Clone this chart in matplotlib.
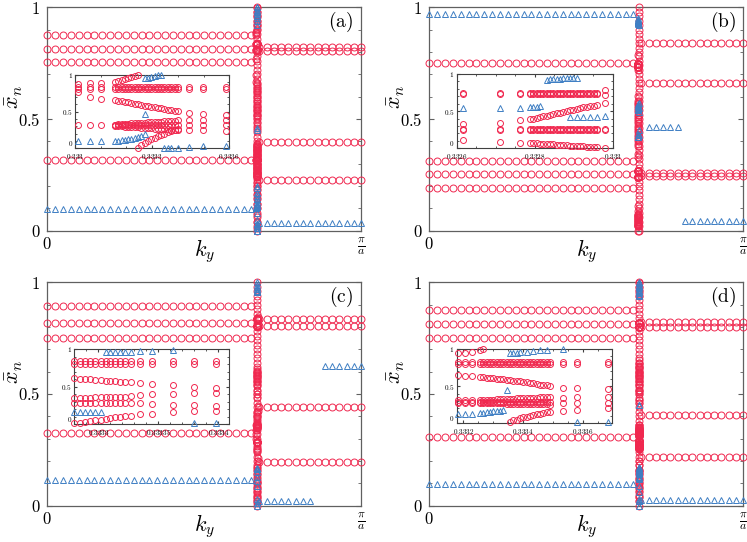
import matplotlib
matplotlib.use('Agg')
import matplotlib.pyplot as plt
from matplotlib.ticker import MultipleLocator

plt.rcParams['mathtext.fontset'] = 'cm'
plt.rcParams['font.family'] = ['DejaVu Serif']

RED = '#f0284f'
BLUE = '#3f7fc4'
N = None

# ---------------- k grids (in units of 2pi/a; pi/a = 0.5) ----------------
k_left = [0.0, 0.0125, 0.025, 0.0375, 0.05, 0.0625, 0.075, 0.0875, 0.1, 0.1125,
          0.125, 0.1375, 0.15, 0.1625, 0.175, 0.1875, 0.2, 0.2125, 0.225, 0.2375,
          0.25, 0.2625, 0.275, 0.2875, 0.3, 0.3125, 0.325]
k_right = [0.3375, 0.3491, 0.3607, 0.3723, 0.3839, 0.3955, 0.4071, 0.4188,
           0.4304, 0.442, 0.4536, 0.4652, 0.4768, 0.4884, 0.5]
k_cross = 0.33333
col_y = [0.0, 0.02, 0.04, 0.06, 0.08, 0.1, 0.12, 0.14, 0.16, 0.18, 0.2, 0.22,
         0.24, 0.26, 0.28, 0.3, 0.32, 0.34, 0.36, 0.38, 0.4, 0.42, 0.44, 0.46,
         0.48, 0.5, 0.52, 0.54, 0.56, 0.58, 0.6, 0.62, 0.64, 0.66, 0.68, 0.7,
         0.72, 0.74, 0.76, 0.78, 0.8, 0.82, 0.84, 0.86, 0.88, 0.9, 0.92, 0.94,
         0.96, 0.98, 1.0]

# ---------------- panel (a) ----------------
a_left_circ = [0.876, 0.813, 0.757, 0.315]
a_left_tri = [0.096]
a_right_circ = [0.822, 0.806, 0.398, 0.227]
a_right_tri = [0.036]
a_right_tri_rng = [(0, 15)]
a_col_tri = [1.0, 0.98, 0.96, 0.94, 0.92, 0.45, 0.2, 0.17, 0.14, 0.11, 0.08,
             0.05, 0.03, 0.01]
a_col_extra_k = []
a_col_extra_y = []
a_ins_k = [0.33301, 0.33306, 0.3331, 0.333155, 0.333168, 0.333181, 0.333194,
           0.333206, 0.333219, 0.333232, 0.333245, 0.333258, 0.333271, 0.333284,
           0.333297, 0.33331, 0.333323, 0.333335, 0.333348, 0.333361, 0.333374,
           0.333387, 0.3334, 0.333445, 0.333497, 0.333587]
a_ins_flat = [0.835, 0.81, 0.315]
a_ins_circ = [
    [0.875, 0.885, 0.89, 0.905, 0.915, 0.925, 0.94, 0.955, 0.965, 0.98, 0.995] + [N] * 15,
    [0.77, 0.695, 0.665, 0.655, 0.648, 0.64, 0.632, 0.624, 0.615, 0.606, 0.597,
     0.588, 0.579, 0.57, 0.562, 0.555, 0.548, 0.541, 0.534, 0.527, 0.52, 0.513,
     0.505, 0.485, 0.47, 0.45],
    [N, N, N, 0.322, 0.325, 0.328, 0.331, 0.334, 0.337, 0.34, 0.343, 0.346, 0.349,
     0.352, 0.355, 0.358, 0.361, 0.364, 0.367, 0.37, 0.373, 0.376, 0.379, 0.39, 0.39, 0.385],
    [N, N, N, 0.305, 0.302, 0.299, 0.296, 0.293, 0.29, 0.287, 0.284, 0.281, 0.278,
     0.275, 0.272, 0.269, 0.266, 0.263, 0.26, 0.257, 0.254, 0.251, 0.248, 0.245, 0.245, 0.24],
    [N] * 10 + [0.01, 0.04, 0.07, 0.1, 0.12, 0.145, 0.165, 0.185, 0.2, 0.215, 0.23,
                0.245, 0.26, N, N, N],
]
a_ins_tri = [
    [0.1, 0.1, 0.1, 0.105, 0.105, 0.11, 0.115, 0.12, 0.13, 0.14, 0.155, 0.17, 0.19] + [N] * 13,
    [N] * 12 + [0.95, 0.96, 0.97, 0.98, 0.99, 1.0] + [N] * 8,
    [N] * 12 + [0.46] + [N] * 13,
    [N] * 18 + [0.0, 0.0, 0.01, N, 0.01, 0.02, 0.03, 0.03],
]
a_ins_xlim = (0.333, 0.3336)
a_ins_xt = [0.333, 0.3333, 0.3336]
a_ins_xtl = ['0.333', '0.3333', '0.3336']

# ---------------- panel (b) ----------------
b_left_circ = [0.752, 0.312, 0.254, 0.192]
b_left_tri = [0.97]
b_right_circ = [0.839, 0.662, 0.257, 0.246]
b_right_tri = [0.463, 0.045]
b_right_tri_rng = [(1, 6), (6, 15)]
b_col_tri = [0.92, 0.57, 0.55, 0.53, 0.45, 0.43]
b_col_extra_k = []
b_col_extra_y = []
b_ins_k = [0.332617, 0.332711, 0.332762, 0.332788, 0.332796, 0.332805, 0.332814,
           0.332822, 0.332831, 0.332839, 0.332848, 0.332856, 0.332865, 0.332873,
           0.332882, 0.332891, 0.332899, 0.332908, 0.332916, 0.332925, 0.332933,
           0.332942, 0.332951, 0.332959, 0.33298]
b_ins_flat = [0.265, 0.24]
b_ins_circ = [
    [0.745] * 24 + [0.785],
    [0.735] * 24 + [0.72],
    [0.33, 0.345, 0.38, 0.39, 0.4, 0.41, 0.42, 0.43, 0.44, 0.45, 0.46, 0.47, 0.48,
     0.49, 0.5, 0.51, 0.52, 0.53, 0.54, 0.55, 0.56, 0.565, 0.57, 0.58, 0.605],
    [0.11, 0.09, 0.07, 0.075, 0.07, 0.067, 0.064, 0.061, 0.058, 0.055, 0.052, 0.049,
     0.046, 0.043, 0.04, 0.037, 0.034, 0.031, 0.028, 0.026, 0.024, 0.022, 0.02, 0.02, 0.0],
]
b_ins_tri = [
    [0.54, 0.54, 0.545, 0.555, 0.56, 0.56, 0.565] + [N] * 18,
    [N] * 8 + [0.925, 0.93, 0.93, 0.935, 0.935, 0.94, 0.94, 0.945, 0.945, 0.95] + [N] * 7,
    [N] * 15 + [0.42, N, 0.42, N, 0.42, N, 0.42, N, 0.42, 0.435],
]
b_ins_xlim = (0.3326, 0.333)
b_ins_xt = [0.3326, 0.3328, 0.333]
b_ins_xtl = ['0.3326', '0.3328', '0.333']

# ---------------- panel (c) ----------------
c_left_circ = [0.895, 0.816, 0.752, 0.324]
c_left_tri = [0.115]
c_right_circ = [0.836, 0.806, 0.443, 0.197]
c_right_tri = [0.625, 0.022]
c_right_tri_rng = [(9, 15), (0, 8)]
c_col_tri = [1.0, 0.98, 0.96, 0.17, 0.15, 0.13, 0.11, 0.09, 0.03, 0.0]
c_col_extra_k = [0.3352, 0.3352, 0.3352, 0.3352, 0.3350, 0.3350, 0.3350, 0.3350,
                 0.3318, 0.3318, 0.3318, 0.3318]
c_col_extra_y = [0.8, 0.815, 0.83, 0.845, 0.425, 0.445, 0.2, 0.215,
                 0.3, 0.32, 0.34, 0.36]
c_ins_k = [0.33328, 0.333285, 0.333289, 0.333293, 0.333297, 0.333302, 0.333306,
           0.33331, 0.333314, 0.333318, 0.333322, 0.333327, 0.333335, 0.333345,
           0.333362, 0.33338, 0.333398]
c_ins_flat = [0.835, 0.805]
c_ins_circ = [
    [0.61, 0.605, 0.6, 0.595, 0.59, 0.585, 0.58, 0.575, 0.57, 0.565, 0.56, 0.555,
     0.545, 0.535, 0.515, 0.5, 0.485],
    [0.35, 0.35, 0.35, 0.352, 0.354, 0.356, 0.358, 0.36, 0.362, 0.364, 0.366, 0.368,
     0.39, 0.395, 0.4, 0.41, 0.42],
    [0.285, 0.285, 0.285, 0.285, 0.285, 0.285, 0.285, 0.285, 0.285, 0.285, 0.285,
     0.285, 0.28, 0.265, 0.255, 0.25, 0.245],
    [0.01, 0.02, 0.03, 0.04, 0.05, 0.06, 0.07, 0.08, 0.09, 0.1, 0.105, 0.11, 0.13,
     0.14, 0.155, 0.17, 0.175],
]
c_ins_tri = [
    [0.165] * 6 + [N] * 11,
    [N] * 6 + [0.955, 0.955, 0.955, 0.955, 0.955, 0.955, 0.97, 0.97, 0.99, N, N],
    [N] * 15 + [0.01, 0.01],
]
c_ins_xlim = (0.33328, 0.333409)
c_ins_xt = [0.3333, 0.33335, 0.3334]
c_ins_xtl = ['0.3333', '0.33335', '0.3334']

# ---------------- panel (d) ----------------
d_left_circ = [0.876, 0.812, 0.752, 0.309]
d_left_tri = [0.096]
d_right_circ = [0.822, 0.802, 0.406, 0.219]
d_right_tri = [0.025]
d_right_tri_rng = [(0, 15)]
d_col_tri = [1.0, 0.98, 0.96, 0.45, 0.15, 0.12, 0.09, 0.06, 0.03, 0.0]
d_col_extra_k = []
d_col_extra_y = []
d_ins_k = [0.333183, 0.333206, 0.333228, 0.333256, 0.333267, 0.333278, 0.333289,
           0.3333, 0.333311, 0.333322, 0.333333, 0.333345, 0.333356, 0.333367,
           0.333378, 0.333389, 0.3334, 0.333411, 0.333422, 0.333433, 0.333445,
           0.333456, 0.333467, 0.333478, 0.333489, 0.333533, 0.333578, 0.333683]
d_ins_flat = [0.82, 0.8]
d_ins_circ = [
    [0.94, 0.95, 0.965, 0.98, 0.995] + [N] * 23,
    [0.65, 0.64, 0.635, 0.625, 0.62, 0.615, 0.61, 0.605, 0.6, 0.595, 0.59, 0.585,
     0.58, 0.575, 0.57, 0.565, 0.56, 0.555, 0.545, 0.54, 0.53, 0.52, 0.515, 0.51,
     0.5, 0.475, 0.475, 0.46],
    [0.31, 0.31, 0.31, 0.312, 0.314, 0.316, 0.318, 0.32, 0.322, 0.324, 0.326, 0.328,
     0.33, 0.332, 0.334, 0.336, 0.338, 0.34, 0.342, 0.344, 0.346, 0.348, 0.35, 0.352,
     0.354, 0.336, 0.36, 0.36],
    [0.29] * 25 + [N, N, N],
    [0.275, 0.275, 0.275, 0.274, 0.273, 0.272, 0.271, 0.27, 0.269, 0.268, 0.267,
     0.266, 0.265, 0.264, 0.263, 0.262, 0.261, 0.26, 0.259, 0.258, 0.257, 0.256,
     0.255, 0.254, 0.253, 0.27, 0.27, 0.27],
    [N] * 12 + [0.02, 0.04, 0.05, 0.065, 0.08, 0.09, 0.1, 0.11, 0.12, 0.13, 0.14,
                0.15, 0.155, 0.16, 0.18, 0.2],
]
d_ins_tri = [
    [0.125, 0.13, 0.13, 0.14, 0.145, 0.15, 0.155, 0.16, 0.165, 0.17, 0.175] + [N] * 17,
    [N] * 12 + [0.94, 0.945, 0.95, 0.955, N, 0.965, N, 0.975, N, 0.985, N, 0.99, N, 0.995, N, N],
    [N] * 11 + [0.45] + [N] * 16,
    [N] * 26 + [0.02, 0.02],
]
d_ins_xlim = (0.333178, 0.333695)
d_ins_xt = [0.3332, 0.3334, 0.3336]
d_ins_xtl = ['0.3332', '0.3334', '0.3336']

panel_labels = ['a', 'b', 'c', 'd']

# ---------------- drawing ----------------
FW, FH = 747, 542
fig = plt.figure(figsize=(FW / 100, FH / 100), dpi=100)


def px_axes(x0, y0, x1, y1):
    return fig.add_axes([x0 / FW, 1 - y1 / FH, (x1 - x0) / FW, (y1 - y0) / FH])


def circ(ax, xs, ys, ms, z=3):
    ax.plot(xs, ys, ls='none', marker='o', ms=ms, mfc='none', mec=RED, mew=0.7,
            clip_on=False, zorder=z)


def tri(ax, xs, ys, ms, z=4):
    ax.plot(xs, ys, ls='none', marker='^', ms=ms, mfc='none', mec=BLUE, mew=0.7,
            clip_on=False, zorder=z)


def branches(ax, kgrid, blist, fn, ms):
    for br in blist:
        xs = [k for k, y in zip(kgrid, br) if y is not None]
        ys = [y for y in br if y is not None]
        fn(ax, xs, ys, ms)


main_boxes = [(47.3, 7.3, 361.3, 230.7), (429.3, 7.3, 743.3, 230.7),
              (47.3, 282.3, 361.3, 505.7), (429.3, 282.3, 743.3, 505.7)]
inset_boxes = [(75, 74.7, 229.3, 148.3), (456.7, 74, 612.7, 148.3),
               (74.3, 349, 229.3, 424), (456.7, 349, 611.7, 423.3)]

panels = [
    (a_left_circ, a_left_tri, a_right_circ, a_right_tri, a_right_tri_rng, a_col_tri,
     a_col_extra_k, a_col_extra_y,
     a_ins_k, a_ins_flat, a_ins_circ, a_ins_tri, a_ins_xlim, a_ins_xt, a_ins_xtl, 0.0001),
    (b_left_circ, b_left_tri, b_right_circ, b_right_tri, b_right_tri_rng, b_col_tri,
     b_col_extra_k, b_col_extra_y,
     b_ins_k, b_ins_flat, b_ins_circ, b_ins_tri, b_ins_xlim, b_ins_xt, b_ins_xtl, 0.00005),
    (c_left_circ, c_left_tri, c_right_circ, c_right_tri, c_right_tri_rng, c_col_tri,
     c_col_extra_k, c_col_extra_y,
     c_ins_k, c_ins_flat, c_ins_circ, c_ins_tri, c_ins_xlim, c_ins_xt, c_ins_xtl, 0.00001),
    (d_left_circ, d_left_tri, d_right_circ, d_right_tri, d_right_tri_rng, d_col_tri,
     d_col_extra_k, d_col_extra_y,
     d_ins_k, d_ins_flat, d_ins_circ, d_ins_tri, d_ins_xlim, d_ins_xt, d_ins_xtl, 0.00005),
]

SPINE = '#606060'
for i, (lc, lt, rc, rt, rtr, ct, cxk, cxy, ik, ifl, ic, it, ixl, ixt, ixtl,
        iminor) in enumerate(panels):
    ax = px_axes(*main_boxes[i])
    ax.set_xlim(0, 0.5)
    ax.set_ylim(0, 1)
    for s in ax.spines.values():
        s.set_color(SPINE)
        s.set_linewidth(0.9)
    MS = 5.0
    for y in lc:
        circ(ax, k_left, [y] * len(k_left), MS)
    for y in lt:
        tri(ax, k_left, [y] * len(k_left), MS)
    for y in rc:
        circ(ax, k_right, [y] * len(k_right), MS)
    for y, (s0, s1) in zip(rt, rtr):
        tri(ax, k_right[s0:s1], [y] * (s1 - s0), MS)
    circ(ax, [k_cross] * len(col_y), col_y, MS)
    if cxk:
        circ(ax, cxk, cxy, MS)
    # spectrum near the crossing (same data as the inset)
    for y in ifl:
        circ(ax, ik, [y] * len(ik), MS)
    branches(ax, ik, ic, circ, MS)
    branches(ax, ik, it, tri, MS)
    tri(ax, [k_cross] * len(ct), ct, MS)

    ax.set_xticks([0, 0.5])
    ax.set_xticklabels([r'$0$', r'$\frac{\pi}{a}$'])
    ax.set_yticks([0, 0.5, 1])
    ax.set_yticklabels([r'$0$', r'$0.5$', r'$1$'])
    ax.yaxis.set_minor_locator(MultipleLocator(0.1))
    ax.tick_params(axis='x', length=0, labelsize=12, pad=4)
    ax.tick_params(axis='y', which='both', direction='in', left=True, right=True,
                   labelsize=12, pad=5, color=SPINE)
    ax.tick_params(axis='y', which='major', length=3.5)
    ax.tick_params(axis='y', which='minor', length=2.5)
    ax.text(0.5, -0.09, r'$k_y$', transform=ax.transAxes, ha='center', va='center',
            fontsize=16)
    ax.text(-0.105, 0.6, r'$\bar{x}_n$', transform=ax.transAxes, ha='center',
            va='center', fontsize=16, rotation=90)
    ax.text(0.935, 0.935, r'$(\mathrm{%s})$' % panel_labels[i], transform=ax.transAxes,
            ha='center', va='center', fontsize=14)

    # inset
    ia = px_axes(*inset_boxes[i])
    ia.set_zorder(10)
    ia.set_facecolor('white')
    ia.set_xlim(*ixl)
    ia.set_ylim(0, 1)
    for s in ia.spines.values():
        s.set_color('#404040')
        s.set_linewidth(0.8)
    IMS = 4.3
    for y in ifl:
        circ(ia, ik, [y] * len(ik), IMS)
    branches(ia, ik, ic, circ, IMS)
    branches(ia, ik, it, tri, IMS)
    ia.set_xticks(ixt)
    ia.set_xticklabels(['$%s$' % t for t in ixtl])
    ia.xaxis.set_minor_locator(MultipleLocator(iminor))
    ia.set_yticks([0, 0.5, 1])
    ia.set_yticklabels([r'$0$', r'$0.5$', r'$1$'])
    ia.yaxis.set_minor_locator(MultipleLocator(0.1))
    ia.tick_params(which='both', direction='in', top=True, right=True,
                   color='#404040')
    ia.tick_params(axis='x', labelsize=5.2, pad=2.8)
    ia.tick_params(axis='y', labelsize=5.2, pad=1.5)
    ia.tick_params(which='major', length=2.5)
    ia.tick_params(which='minor', length=1.5)
    ia.get_yticklabels()[0].set_verticalalignment('bottom')

fig.savefig('out.png', dpi=100)
